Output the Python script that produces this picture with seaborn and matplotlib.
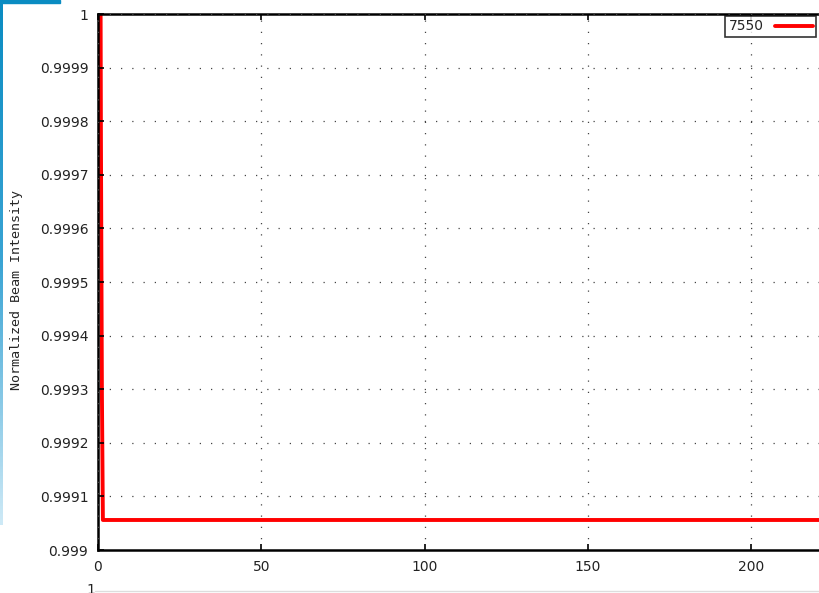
import matplotlib
matplotlib.use("Agg")
import matplotlib.pyplot as plt
import seaborn as sns
import pandas as pd
import numpy as np
from matplotlib.patches import Rectangle
from matplotlib.lines import Line2D
from matplotlib.colors import LinearSegmentedColormap

# data
time = [0.8, 0.9, 1.2, 1.5, 221]
intensity = [1.0, 0.99976, 0.99929, 0.999056, 0.999056]
series_name = "7550"
y_ticks = [0.999, 0.9991, 0.9992, 0.9993, 0.9994, 0.9995, 0.9996, 0.9997, 0.9998, 0.9999, 1.0]
y_labels = ["0.999", "0.9991", "0.9992", "0.9993", "0.9994", "0.9995", "0.9996", "0.9997", "0.9998", "0.9999", "1"]
x_ticks = [0, 50, 100, 150, 200]

sns.set_theme(style="white")
plt.rcParams['font.family'] = ['DejaVu Sans']

W, H = 819, 593
fig = plt.figure(figsize=(W / 100, H / 100), dpi=100)
fig.patch.set_facecolor("white")

left, top_px, bottom_px = 98, 14, 550
ax_w_px = 230 * 3.265
ax = fig.add_axes([left / W, 1 - bottom_px / H, ax_w_px / W, (bottom_px - top_px) / H])

df = pd.DataFrame({"time": time, "intensity": intensity, "run": series_name})
sns.lineplot(data=df, x="time", y="intensity", hue="run", palette=["#ff0000"],
             estimator=None, sort=False, linewidth=2.8, ax=ax, legend=False)

ax.set_xlim(0, 230)
ax.set_ylim(0.999, 1.0)
ax.set_xticks(x_ticks)
ax.set_xticklabels([str(t) for t in x_ticks])
ax.set_yticks(y_ticks)
ax.set_yticklabels(y_labels)
ax.set_xlabel("")
ax.set_ylabel("Normalized Beam Intensity", fontsize=9.6, family="DejaVu Sans Mono")
ax.yaxis.set_label_coords((23 - left) / ax_w_px, (bottom_px - 290) / (bottom_px - top_px))
ax.tick_params(direction="in", length=4, width=1.2, colors="black", labelsize=10,
               top=True, right=True, bottom=True, left=True, pad=7)
for t in ax.get_xticklabels() + ax.get_yticklabels():
    t.set_color("#222222")
for s in ax.spines.values():
    s.set_color("black")
    s.set_linewidth(1.8)

ax.grid(True, color="#444444", linestyle=(0, (1, 8)), linewidth=0.9)
ax.set_axisbelow(False)

# legend
h = [Line2D([0], [0], color="#ff0000", linewidth=2.8)]
leg = fig.legend(h, [series_name], loc="upper right", bbox_to_anchor=(816 / W, 1 - 16 / H),
                 bbox_transform=fig.transFigure, frameon=True, fontsize=10,
                 handlelength=2.7, handletextpad=0.8, borderpad=0.25, borderaxespad=0,
                 markerfirst=False, fancybox=False)
leg.get_frame().set_edgecolor("black")
leg.get_frame().set_linewidth(1.2)

# window decorations around the cropped screenshot
fig.patches.append(Rectangle((0, 1 - 3 / H), 60 / W, 3 / H, transform=fig.transFigure,
                             color="#0a8cc2", zorder=10))
strip = fig.add_axes([0, 1 - 525 / H, 2.5 / W, 525 / H])
cmap = LinearSegmentedColormap.from_list("strip", ["#0a8cc2", "#3aa4d4", "#cde9f6"])
strip.imshow(np.linspace(0, 1, 100).reshape(-1, 1), aspect="auto", cmap=cmap)
strip.set_axis_off()
fig.text(86 / W, 1 - 597 / H, "1", fontsize=10, color="#222222", va="bottom")
fig.add_artist(Line2D([95 / W, 1], [1 - 591 / H, 1 - 591 / H], transform=fig.transFigure,
                      color="#dddddd", linewidth=1))

fig.savefig("out.png", dpi=100)
